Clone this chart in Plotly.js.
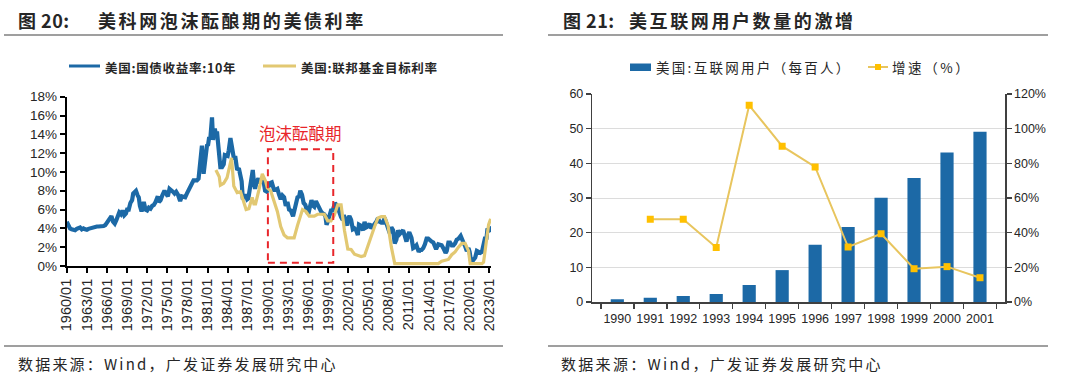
<!DOCTYPE html>
<html>
<head>
<meta charset="utf-8">
<script src="https://cdn.plot.ly/plotly-3.0.1.min.js"></script>
<style>
html,body{margin:0;padding:0;background:#fff;}
#chart{width:1080px;height:383px;}
</style>
</head>
<body>
<div id="chart"></div>
<script>
// ---------- Figure 20: US 10Y treasury yield vs Fed funds target (%) ----------
const tsyDates = [
'1960-01','1960-04','1960-07','1960-10','1961-01','1961-04','1961-07','1961-10',
'1962-01','1962-04','1962-07','1962-10','1963-01','1963-04','1963-07','1963-10',
'1964-01','1964-04','1964-07','1964-10','1965-01','1965-04','1965-07','1965-10',
'1966-01','1966-04','1966-07','1966-09','1966-12','1967-03','1967-06','1967-09','1967-11',
'1968-02','1968-05','1968-08','1968-11','1969-01','1969-04','1969-07','1969-10','1969-12',
'1970-01','1970-05','1970-08','1970-10','1970-12','1971-03','1971-05','1971-07','1971-10',
'1972-01','1972-04','1972-07','1972-10','1973-01','1973-04','1973-08','1973-10',
'1974-01','1974-04','1974-08','1974-11','1975-02','1975-05','1975-08','1975-11',
'1976-02','1976-05','1976-08','1976-12','1977-03','1977-06','1977-09','1977-12',
'1978-03','1978-06','1978-09','1978-12','1979-03','1979-06','1979-09','1979-11',
'1980-01','1980-03','1980-06','1980-09','1980-12','1981-02','1981-04','1981-06','1981-09','1981-11','1981-12',
'1982-02','1982-04','1982-06','1982-08','1982-10','1982-12','1983-03','1983-06','1983-08','1983-11',
'1984-01','1984-03','1984-06','1984-08','1984-10','1984-12','1985-03','1985-06','1985-09','1985-12',
'1986-02','1986-04','1986-07','1986-09','1986-12','1987-02','1987-04','1987-07','1987-10','1987-12',
'1988-02','1988-05','1988-08','1988-11','1989-02','1989-05','1989-08','1989-11',
'1990-01','1990-04','1990-08','1990-10','1990-12','1991-03','1991-06','1991-09','1991-12',
'1992-03','1992-06','1992-09','1992-12','1993-03','1993-06','1993-10','1993-12',
'1994-03','1994-06','1994-09','1994-11','1995-02','1995-05','1995-08','1995-12',
'1996-02','1996-05','1996-07','1996-10','1996-12','1997-03','1997-06','1997-09','1997-12',
'1998-03','1998-06','1998-08','1998-10','1998-12','1999-03','1999-06','1999-09','1999-12',
'2000-01','2000-05','2000-08','2000-10','2000-12','2001-03','2001-05','2001-08','2001-11','2001-12',
'2002-03','2002-06','2002-09','2002-12','2003-03','2003-06','2003-08','2003-11',
'2004-03','2004-06','2004-09','2004-12','2005-03','2005-06','2005-09','2005-12',
'2006-03','2006-06','2006-09','2006-12','2007-03','2007-06','2007-09','2007-12',
'2008-03','2008-06','2008-09','2008-12','2009-03','2009-06','2009-09','2009-12',
'2010-03','2010-06','2010-09','2010-12','2011-02','2011-06','2011-09','2011-12',
'2012-03','2012-07','2012-09','2012-12','2013-03','2013-06','2013-09','2013-12',
'2014-03','2014-06','2014-09','2014-12','2015-02','2015-06','2015-09','2015-12',
'2016-03','2016-07','2016-09','2016-12','2017-03','2017-06','2017-09','2017-12',
'2018-03','2018-06','2018-10','2018-12','2019-03','2019-06','2019-09','2019-12',
'2020-02','2020-04','2020-08','2020-12','2021-03','2021-06','2021-09','2021-12',
'2022-03','2022-06','2022-08','2022-10','2022-12','2023-02','2023-04'
];
const tsyYield = [
4.7,4.3,4.0,3.9,3.85,3.8,3.95,4.0,
4.1,3.9,4.0,3.9,3.85,3.95,4.0,4.1,
4.2,4.2,4.2,4.2,4.2,4.2,4.25,4.35,
4.6,4.7,5.0,5.3,4.7,4.5,4.9,5.3,5.7,
5.5,5.9,5.4,5.6,6.0,6.0,6.7,7.0,7.7,
7.8,8.0,7.5,7.3,6.4,5.8,6.3,6.8,6.0,
5.9,6.2,6.1,6.4,6.5,6.8,7.4,6.8,
7.0,7.5,8.0,7.7,7.4,8.2,8.1,7.9,
7.7,7.9,7.6,6.9,7.4,7.3,7.3,7.7,
8.0,8.4,8.6,9.1,9.1,9.1,9.3,10.6,
10.8,12.8,9.8,11.4,12.8,12.9,13.7,13.5,15.8,13.4,13.7,
14.6,14.0,14.3,13.0,11.0,10.5,10.5,10.8,11.8,11.7,
11.7,12.3,13.6,12.9,12.2,11.5,11.5,10.2,10.4,9.3,
9.0,7.3,7.3,7.6,7.1,7.2,8.0,8.5,10.2,8.9,
8.2,9.0,9.3,8.8,9.2,9.1,8.0,7.9,
8.2,8.8,8.9,8.6,8.1,8.1,8.2,7.6,7.1,
7.5,7.3,6.4,6.8,6.0,5.9,5.3,5.8,
6.6,7.3,7.4,8.0,7.6,6.7,6.5,5.7,
5.7,6.8,7.0,6.4,6.3,6.9,6.5,6.2,5.8,
5.6,5.5,5.3,4.4,4.7,5.2,5.9,5.9,6.4,
6.7,6.4,5.8,5.7,5.2,4.9,5.4,4.8,4.3,5.0,
5.3,4.9,3.9,4.0,3.8,3.3,4.4,4.3,
3.8,4.7,4.1,4.2,4.5,4.0,4.2,4.4,
4.7,5.1,4.7,4.6,4.6,5.1,4.6,4.1,
3.5,4.1,3.8,2.4,2.8,3.8,3.4,3.6,
3.8,3.2,2.6,3.3,3.6,3.0,1.9,2.0,
2.2,1.5,1.7,1.7,1.9,2.3,2.9,2.9,
2.7,2.6,2.5,2.2,1.8,2.3,2.2,2.2,
1.9,1.4,1.6,2.5,2.5,2.2,2.2,2.4,
2.8,2.9,3.2,2.8,2.5,2.1,1.6,1.9,
1.5,0.7,0.6,0.9,1.6,1.5,1.4,1.5,
2.2,3.1,2.8,4.0,3.8,3.9,3.6
];
const fedDates = [
'1982-04','1982-10','1982-12','1983-06','1983-12','1984-08','1984-12','1985-06','1985-12',
'1986-06','1986-10','1987-03','1987-09','1987-12','1988-03','1988-09','1989-03','1989-09','1989-12',
'1990-06','1990-12','1991-06','1991-12','1992-06','1992-12','1993-06','1993-12',
'1994-06','1994-12','1995-03','1995-09','1996-03','1996-12','1997-06','1997-12',
'1998-06','1998-12','1999-06','1999-12','2000-06','2000-12','2001-06','2001-12',
'2002-06','2002-12','2003-06','2003-12','2004-06','2004-12','2005-06','2005-12',
'2006-06','2006-12','2007-06','2007-12','2008-06','2008-12','2010-12','2013-12',
'2015-06','2015-12','2016-12','2017-06','2017-12','2018-06','2018-12','2019-06','2019-12',
'2020-03','2021-06','2021-12','2022-03','2022-06','2022-09','2022-12','2023-03','2023-04'
];
const fedRate = [
10.2,9.5,8.6,8.8,9.4,11.5,8.5,7.8,7.9,
6.8,6.0,6.1,7.3,6.6,6.6,8.1,9.8,9.0,8.3,
8.0,7.0,5.8,4.2,3.3,3.0,3.0,3.0,
4.3,5.5,6.0,5.8,5.3,5.3,5.5,5.5,
5.5,4.8,4.8,5.4,6.5,6.5,3.8,1.8,
1.75,1.25,1.1,1.0,1.1,2.2,3.2,4.2,
5.1,5.25,5.25,4.3,2.0,0.25,0.25,0.25,
0.25,0.5,0.7,1.2,1.5,2.0,2.4,2.4,1.6,
0.25,0.25,0.25,0.4,1.6,3.1,4.4,4.9,5.0
];
const bubbleStart = '1990-01-01';
const bubbleEnd = '1999-10-01';
const bubbleLow = 0.35;
const bubbleHigh = 12.4;

// ---------- Figure 21: US internet users per 100 people & growth ----------
const netYears = ['1990','1991','1992','1993','1994','1995','1996','1997','1998','1999','2000','2001'];
const netUsers = [0.8,1.2,1.7,2.3,4.9,9.2,16.5,21.6,30.1,35.8,43.1,49.1];
const netGrowth = [null,47.7,47.7,31.5,113.5,89.9,77.9,31.7,39.4,19.2,20.4,14.0];

// ---------- helpers (paper coordinates from pixels) ----------
const W = 1080, H = 383;
const px = v => v / W;
const py = v => 1 - v / H;

const BLUE = '#1C69A6';
const GOLD = '#E2C872';
const TXT = '#262626';
const CJK = '"Noto Sans CJK SC", "Liberation Sans", sans-serif';
const LAT = '"Liberation Sans", Arial, sans-serif';

const traces = [
  {x: tsyDates, y: tsyYield, type: 'scatter', mode: 'lines', name: '美国:国债收益率:10年',
   line: {color: BLUE, width: 4.2}, xaxis: 'x', yaxis: 'y', showlegend: false},
  {x: fedDates, y: fedRate, type: 'scatter', mode: 'lines', name: '美国:联邦基金目标利率',
   line: {color: GOLD, width: 3.2}, xaxis: 'x', yaxis: 'y', showlegend: false},
  {x: netYears, y: netUsers, type: 'bar', name: '美国:互联网用户（每百人）',
   marker: {color: BLUE}, xaxis: 'x2', yaxis: 'y2', showlegend: false},
  {x: netYears, y: netGrowth, type: 'scatter', mode: 'lines+markers', name: '增速（%）',
   line: {color: '#E8C55E', width: 2}, marker: {symbol: 'square', size: 7, color: '#FFC000'},
   xaxis: 'x2', yaxis: 'y3', showlegend: false, connectgaps: false}
];

const ann = [];
const spacing = [];
function txt(text, x, y, size, ls, opts) {
  ann.push(Object.assign({text: text, x: px(x), y: py(y), xref: 'paper', yref: 'paper',
    xanchor: 'left', yanchor: 'middle', align: 'left', showarrow: false,
    font: {family: CJK, size: size, color: TXT}}, opts || {}));
  spacing.push(ls || 0);
}
// titles
txt('<b>图 20:</b>', 16, 20, 18, 0.5);
txt('<b>美科网泡沫酝酿期的美债利率</b>', 96, 20, 18, 2.6);
txt('<b>图 21:</b>', 561, 20, 18, 0.5);
txt('<b>美互联网用户数量的激增</b>', 627, 20, 18, 2.6);
// legends
txt('<b>美国:国债收益率:10年</b>', 103, 67, 12.5, 0.7);
txt('<b>美国:联邦基金目标利率</b>', 299, 67, 12.5, 0.7);
txt('美国:互联网用户（每百人）', 654, 67, 13.5, 2.3);
txt('增速（%）', 890, 67, 13.5, 2.6);
// sources
txt('数据来源：Wind，广发证券发展研究中心', 16, 363, 15, 2.2);
txt('数据来源：Wind，广发证券发展研究中心', 559, 363, 15, 2.3);
// bubble label
ann.push({text: '泡沫酝酿期', x: '1994-11-01', y: py(133), xref: 'x', yref: 'paper',
  xanchor: 'center', yanchor: 'middle', showarrow: false,
  font: {family: CJK, size: 16.5, color: '#E8262B'}});
spacing.push(0);

const shapes = [
  // separator lines
  {type: 'line', xref: 'paper', yref: 'paper', x0: px(4), x1: px(503), y0: py(35), y1: py(35), line: {color: '#7f7f7f', width: 1.5}},
  {type: 'line', xref: 'paper', yref: 'paper', x0: px(548), x1: px(1048), y0: py(35), y1: py(35), line: {color: '#7f7f7f', width: 1.5}},
  {type: 'line', xref: 'paper', yref: 'paper', x0: px(4), x1: px(503), y0: py(346), y1: py(346), line: {color: '#7f7f7f', width: 1.5}},
  {type: 'line', xref: 'paper', yref: 'paper', x0: px(548), x1: px(1048), y0: py(346), y1: py(346), line: {color: '#7f7f7f', width: 1.5}},
  // legend symbols
  {type: 'line', xref: 'paper', yref: 'paper', x0: px(69), x1: px(100), y0: py(66), y1: py(66), line: {color: BLUE, width: 3}},
  {type: 'line', xref: 'paper', yref: 'paper', x0: px(263), x1: px(296), y0: py(66), y1: py(66), line: {color: GOLD, width: 3}},
  {type: 'rect', xref: 'paper', yref: 'paper', x0: px(630), x1: px(651), y0: py(63.5), y1: py(71), fillcolor: BLUE, line: {width: 0}},
  {type: 'line', xref: 'paper', yref: 'paper', x0: px(868), x1: px(888), y0: py(67), y1: py(67), line: {color: '#E8C55E', width: 2}},
  {type: 'rect', xref: 'paper', yref: 'paper', x0: px(875), x1: px(881), y0: py(64), y1: py(70), fillcolor: '#FFC000', line: {width: 0}},
  // bubble-period box
  {type: 'rect', xref: 'x', yref: 'y', x0: bubbleStart, x1: bubbleEnd, y0: bubbleLow, y1: bubbleHigh,
   line: {color: '#E8262B', width: 2, dash: '7px,5px'}, fillcolor: 'rgba(0,0,0,0)'}
];

const axisFont = {family: LAT, size: 13.5, color: TXT};
const layout = {
  width: W, height: H,
  margin: {l: 0, r: 0, t: 0, b: 0},
  paper_bgcolor: '#fff', plot_bgcolor: 'rgba(0,0,0,0)',
  showlegend: false,
  bargap: 0.6,
  xaxis: {domain: [px(66.7), px(491)], anchor: 'y', type: 'date',
    range: ['1960-01-01', '2023-04-10'], tick0: '1960-01-01', dtick: 'M36', tickformat: '%Y/%m',
    tickangle: -90, ticks: 'outside', ticklen: 5, tickwidth: 2, tickcolor: '#000',
    showline: true, linecolor: '#000', linewidth: 2, showgrid: false, zeroline: false,
    tickfont: {family: LAT, size: 14.5, color: TXT}},
  yaxis: {domain: [py(266), py(96.7)], anchor: 'x', range: [0, 18], dtick: 2, ticksuffix: '%',
    ticks: 'outside', ticklen: 5, tickwidth: 2, tickcolor: '#000',
    showline: true, linecolor: '#000', linewidth: 2, showgrid: false, zeroline: false,
    tickfont: axisFont},
  xaxis2: {domain: [px(592.3), px(1005)], anchor: 'y2', type: 'category', tickangle: 0,
    tickson: 'boundaries', ticks: 'outside', ticklen: 5, tickwidth: 1.5, tickcolor: '#404040',
    ticklabelstandoff: 4,
    showline: true, linecolor: '#404040', linewidth: 1.5, showgrid: false, zeroline: false,
    tickfont: {family: LAT, size: 12.5, color: TXT}},
  yaxis2: {domain: [py(302), py(94)], anchor: 'x2', range: [0, 60], dtick: 10,
    ticks: 'outside', ticklen: 5, tickwidth: 1.5, tickcolor: '#404040',
    showline: true, linecolor: '#404040', linewidth: 1.5,
    showgrid: true, gridcolor: '#dcdcdc', gridwidth: 1, zeroline: false,
    tickfont: {family: LAT, size: 12.5, color: TXT}},
  yaxis3: {overlaying: 'y2', anchor: 'x2', side: 'right', range: [0, 120], dtick: 20, ticksuffix: '%',
    ticks: 'outside', ticklen: 5, tickwidth: 1.5, tickcolor: '#404040',
    showline: true, linecolor: '#404040', linewidth: 1.5, showgrid: false, zeroline: false,
    tickfont: {family: LAT, size: 12.5, color: TXT}},
  annotations: ann,
  shapes: shapes
};

Plotly.newPlot('chart', traces, layout, {displayModeBar: false, staticPlot: true}).then(function (gd) {
  spacing.forEach(function (ls, i) {
    if (!ls) return;
    const t = gd.querySelector('.annotation[data-index="' + i + '"] .annotation-text');
    if (t) t.style.letterSpacing = ls + 'px';
  });
});
</script>
</body>
</html>
